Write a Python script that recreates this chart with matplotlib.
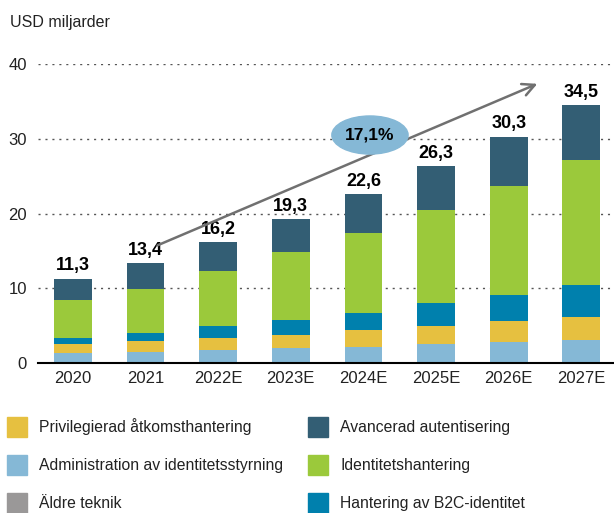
import matplotlib
matplotlib.use('Agg')
import matplotlib.pyplot as plt
from matplotlib.patches import Ellipse, Patch

plt.rcParams['font.family'] = ['Liberation Sans', 'DejaVu Sans']

# data (USD miljarder)
years = ['2020', '2021', '2022E', '2023E', '2024E', '2025E', '2026E', '2027E']
totals = [11.3, 13.4, 16.2, 19.3, 22.6, 26.3, 30.3, 34.5]
aldre = [0.1, 0.1, 0.1, 0.1, 0.1, 0.1, 0.1, 0.1]
admin = [1.2, 1.4, 1.6, 1.9, 2.0, 2.5, 2.7, 3.0]
priv = [1.2, 1.4, 1.6, 1.8, 2.3, 2.4, 2.8, 3.0]
b2c = [0.8, 1.1, 1.6, 1.9, 2.3, 3.0, 3.5, 4.3]
ident = [5.1, 5.9, 7.4, 9.1, 10.7, 12.5, 14.6, 16.8]
avanc = [2.9, 3.5, 3.9, 4.5, 5.2, 5.8, 6.6, 7.3]
cagr = '17,1%'

series = [
    ('Äldre teknik', aldre, '#9a9898'),
    ('Administration av identitetsstyrning', admin, '#85b8d6'),
    ('Privilegierad åtkomsthantering', priv, '#e6c040'),
    ('Hantering av B2C-identitet', b2c, '#0080ad'),
    ('Identitetshantering', ident, '#9bc93b'),
    ('Avancerad autentisering', avanc, '#335e74'),
]

fig = plt.figure(figsize=(6.14, 5.13), dpi=100)
ax = fig.add_axes([0.062, 0.2924, 0.938, 0.5828])

x = list(range(len(years)))
bottom = [0.0] * len(years)
for name, vals, col in series:
    ax.bar(x, vals, 0.52, bottom=bottom, color=col, zorder=3)
    bottom = [b + v for b, v in zip(bottom, vals)]

for i, t in enumerate(totals):
    ax.annotate(str(t).replace('.', ','), (i, t), xytext=(0, 3),
                textcoords='offset points', ha='center', va='bottom',
                fontsize=13, fontweight='bold', color='black')

# growth arrow + CAGR bubble
ax.annotate('', xy=(6.43, 37.5), xytext=(1.13, 15.6),
            arrowprops=dict(arrowstyle='->', color='#707070', lw=1.8,
                            mutation_scale=22), zorder=4)
ax.add_patch(Ellipse((4.09, 30.5), 1.05, 5.1, color='#85b8d6', zorder=5))
ax.text(4.09, 30.5, cagr, ha='center', va='center', fontsize=12.5,
        fontweight='bold', zorder=6)

ax.set_xlim(-0.48, 7.45)
ax.set_ylim(0, 40)
ax.set_yticks([0, 10, 20, 30, 40])
ax.set_xticks(x)
ax.set_xticklabels(years)
ax.tick_params(length=0, labelsize=12, colors='#222222', pad=6)
ax.tick_params(axis='y', pad=8)
for yv in [10, 20, 30, 40]:
    ax.axhline(yv, color='#555555', lw=1, ls=(0, (1.5, 3.5)), zorder=1)
for s in ['top', 'right', 'left']:
    ax.spines[s].set_visible(False)
ax.spines['bottom'].set_linewidth(1.5)
ax.spines['bottom'].set_zorder(6)

fig.text(0.016, 1 - 22 / 513, 'USD miljarder', fontsize=11.5, va='center',
         color='#222222')

order = [2, 1, 0, 5, 4, 3]
handles = [Patch(color=series[k][2]) for k in order]
labels = [series[k][0] for k in order]
fig.legend(handles, labels, loc='upper left', ncol=2,
           bbox_to_anchor=(-0.012, 1 - 403 / 513), frameon=False,
           fontsize=11.3, handlelength=1.27, handleheight=1.54,
           labelspacing=1.18, columnspacing=1.6, handletextpad=0.77,
           labelcolor='#222222')

fig.savefig('out.png', dpi=100)
